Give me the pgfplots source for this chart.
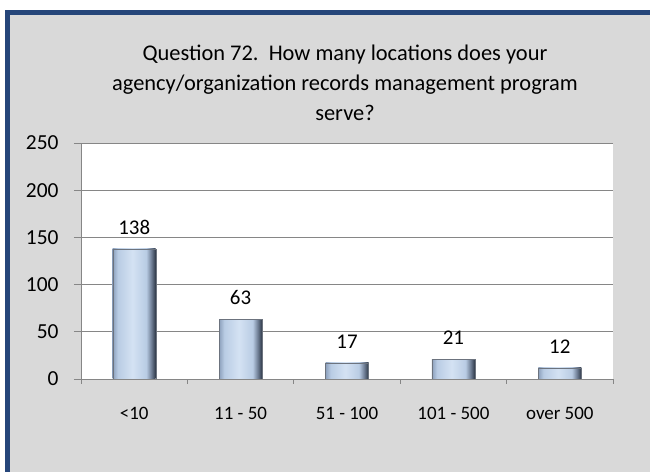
\documentclass[border=0pt]{standalone}
\usepackage{pgfplots}
\pgfplotsset{compat=1.18}
\usetikzlibrary{backgrounds}
\usepackage{fontspec}
\setmainfont{Carlito}
\definecolor{frameblue}{RGB}{38,70,122}
\definecolor{bggray}{RGB}{217,217,217}
\definecolor{gridgray}{RGB}{134,134,134}
\definecolor{barA}{RGB}{140,160,188}
\definecolor{barB}{RGB}{185,204,228}
\definecolor{barC}{RGB}{212,226,243}
\definecolor{barD}{RGB}{110,125,148}
\definecolor{barE}{RGB}{45,55,70}
\pgfdeclarehorizontalshading{bevel}{100bp}{color(0bp)=(barA); color(25bp)=(barA); color(31bp)=(barB); color(48bp)=(barC); color(64bp)=(barB); color(70bp)=(barD); color(75bp)=(barE); color(100bp)=(barE)}
\begin{document}
\begin{tikzpicture}[x=1bp,y=1bp]
\begin{axis}[
  name=ax,
  scale only axis, width=532bp, height=236bp,
  xmin=-0.5, xmax=4.5, ymin=0, ymax=250,
  ytick={0,50,...,250},
  xtick={0,...,4},
  xticklabels={<10, 11 - 50, 51 - 100, 101 - 500, over 500},
  minor xtick={-0.5,0.5,...,4.5},
  axis x line*=bottom, axis y line*=left,
  axis line style={gridgray, line width=0.8bp, -},
  tick align=outside,
  major tick length=7bp, minor tick length=5bp,
  major x tick style={draw=none},
  minor x tick style={draw=gridgray, line width=0.8bp},
  y tick style={draw=gridgray, line width=0.8bp},
  ymajorgrids, grid style={gridgray, line width=0.8bp},
  axis background/.style={fill=white},
  /pgf/number format/assume math mode=true,
  yticklabel style={font=\fontsize{21.5}{24}\selectfont, xshift=-12bp},
  xticklabel style={font=\fontsize{19}{22}\selectfont, yshift=-18bp},
  nodes near coords,
  every node near coord/.append style={font=\fontsize{21}{24}\selectfont, yshift=11bp, black},
  ybar, bar width=43bp, bar shift=0pt,
  cycle list={{draw=barE!70}},
  every axis plot/.append style={line width=0.3bp, shading=bevel},
]
\addplot coordinates {(0,138)};
\addplot coordinates {(1,63)};
\addplot coordinates {(2,17)};
\addplot coordinates {(3,21)};
\addplot coordinates {(4,12)};
\coordinate (O) at (rel axis cs:0,0);
\end{axis}
\begin{scope}[on background layer, shift={(O)}, shift={(-81,-93)}]
  \clip (0,0) rectangle (650,472);
  \fill[white] (0,0) rectangle (650,472);
  \draw[frameblue, line width=5bp, fill=bggray] (7.5,-30) rectangle (680,459.5);
\end{scope}
\begin{scope}[shift={(O)}, shift={(-81,-93)}]
  \node[font=\fontsize{22.5}{30}\selectfont, align=center] at (345,389) {Question 72.\ \ How many locations does your\\agency/organization records management program\\serve?};
\end{scope}
\pgfresetboundingbox
\path[use as bounding box, shift={(O)}] (-81,-93) rectangle (569,379);
\end{tikzpicture}
\end{document}
